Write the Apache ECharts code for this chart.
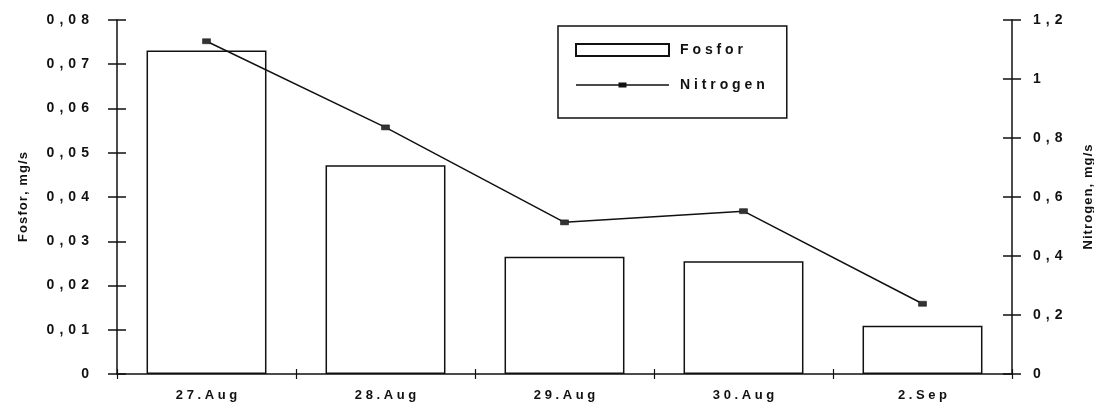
<!DOCTYPE html>
<html>
<head>
<meta charset="utf-8">
<script src="https://cdn.jsdelivr.net/npm/echarts@6/dist/echarts.min.js"></script>
<style>
  html, body { margin: 0; padding: 0; background: #fff; }
  #chart { width: 1094px; height: 411px; }
</style>
</head>
<body>
<div id="chart"></div>
<script>
// data
const dates = ['27.Aug', '28.Aug', '29.Aug', '30.Aug', '2.Sep'];
const fosfor = [0.0731, 0.0472, 0.0265, 0.0255, 0.0109];
const nitrogen = [1.128, 0.836, 0.514, 0.552, 0.238];

const FONT = 'Liberation Sans';
const INK = '#111';

// spread characters out like the old printout
function spaced(s, gap) {
    return s.split('').join(gap);
}

function commaLabel(v) {
    let s = String(+v.toFixed(2)).replace('.', ',');
    return spaced(s, ' \u200A');
}

const labelStyle = { color: INK, fontFamily: FONT, fontWeight: 'bold', fontSize: 14 };
const nameStyle = { color: INK, fontFamily: FONT, fontWeight: 'bold', fontSize: 13 };

// legend icon for the line: thin line with a small square in the middle
const lineIcon = 'path://M0,0L0.05,0L0,0.05Z M93,12L92.95,12L93,11.95Z '
    + 'M0,5.3L93,5.3L93,6.7L0,6.7Z M42.5,3.5L50.5,3.5L50.5,8.5L42.5,8.5Z';

var chart = echarts.init(document.getElementById('chart'));
var option = {
    backgroundColor: '#fff',
    animation: false,
    grid: { left: 117, right: 82, top: 20, bottom: 37, outerBoundsMode: 'none' },
    legend: {
        left: 558,
        top: 26,
        orient: 'vertical',
        backgroundColor: '#fff',
        borderColor: INK,
        borderWidth: 1.5,
        borderRadius: 0,
        padding: [17, 22, 26, 17],
        itemWidth: 93,
        itemHeight: 12,
        itemGap: 21,
        data: [
            { name: 'Fosfor', icon: 'rect' },
            { name: 'Nitrogen', icon: lineIcon, itemStyle: { color: INK, borderWidth: 0 } }
        ],
        formatter: name => spaced(name, ' '),
        textStyle: { color: INK, fontFamily: FONT, fontWeight: 'bold', fontSize: 14, padding: [0, 0, 0, 6] }
    },
    xAxis: [
        {
            type: 'category',
            data: dates,
            axisLine: { lineStyle: { color: INK, width: 1.5 } },
            axisTick: { show: true, length: 5, lineStyle: { color: INK, width: 1.2 } },
            axisLabel: Object.assign({ margin: 15, formatter: v => spaced(v, ' ') }, labelStyle, { fontSize: 13 }),
            splitLine: { show: false }
        },
        {
            // inner half of the crossing ticks
            type: 'category',
            data: dates,
            position: 'bottom',
            axisLine: { show: false },
            axisTick: { show: true, inside: true, length: 5, lineStyle: { color: INK, width: 1.2 } },
            axisLabel: { show: false },
            splitLine: { show: false }
        }
    ],
    yAxis: [
        {
            type: 'value',
            position: 'left',
            min: 0, max: 0.08, interval: 0.01,
            name: spaced('Fosfor, mg/s', '\u200A'),
            nameLocation: 'middle',
            nameRotate: 90,
            nameGap: 87,
            nameTextStyle: nameStyle,
            axisLine: { show: true, lineStyle: { color: INK, width: 1.5 } },
            axisTick: { show: true, length: 9, lineStyle: { color: INK, width: 1.5 } },
            axisLabel: Object.assign({ margin: 28, formatter: commaLabel }, labelStyle),
            splitLine: { show: false }
        },
        {
            type: 'value',
            position: 'right',
            min: 0, max: 1.2, interval: 0.2,
            name: spaced('Nitrogen, mg/s', '\u200A'),
            nameLocation: 'middle',
            nameRotate: 90,
            nameGap: 70,
            nameTextStyle: nameStyle,
            axisLine: { show: true, lineStyle: { color: INK, width: 1.5 } },
            axisTick: { show: true, length: 9, lineStyle: { color: INK, width: 1.5 } },
            axisLabel: Object.assign({ margin: 21, formatter: commaLabel }, labelStyle),
            splitLine: { show: false }
        },
        {
            type: 'value',
            position: 'left',
            min: 0, max: 0.08, interval: 0.01,
            axisLine: { show: false },
            axisTick: { show: true, inside: true, length: 9, lineStyle: { color: INK, width: 1.5 } },
            axisLabel: { show: false },
            splitLine: { show: false }
        },
        {
            type: 'value',
            position: 'right',
            min: 0, max: 1.2, interval: 0.2,
            axisLine: { show: false },
            axisTick: { show: true, inside: true, length: 9, lineStyle: { color: INK, width: 1.5 } },
            axisLabel: { show: false },
            splitLine: { show: false }
        }
    ],
    series: [
        {
            name: 'Fosfor',
            type: 'bar',
            xAxisIndex: 0,
            yAxisIndex: 0,
            barWidth: '67%',
            data: fosfor,
            itemStyle: { color: '#fff', borderColor: INK, borderWidth: 1.5 }
        },
        {
            name: 'Nitrogen',
            type: 'line',
            xAxisIndex: 0,
            yAxisIndex: 1,
            data: nitrogen,
            symbol: 'rect',
            symbolSize: [8, 5],
            lineStyle: { color: INK, width: 1.5 },
            itemStyle: { color: '#333', borderColor: '#111', borderWidth: 0.5 },
            z: 5
        }
    ]
};
chart.setOption(option);
</script>
</body>
</html>
